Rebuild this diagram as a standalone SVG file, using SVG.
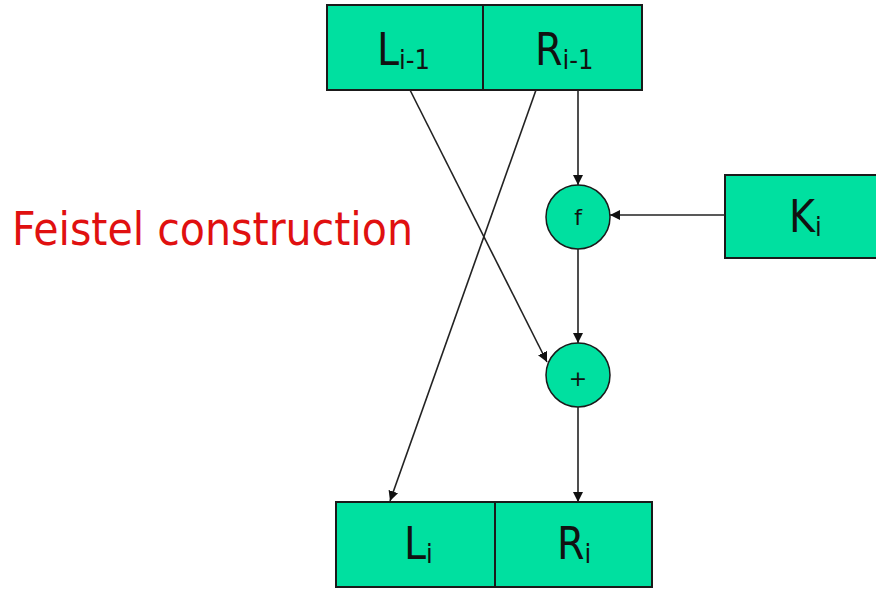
<svg xmlns="http://www.w3.org/2000/svg" width="876" height="590" viewBox="0 0 876 590">
  <defs>
    <marker id="arrow" viewBox="0 0 10 10" refX="10" refY="5" markerWidth="10" markerHeight="10" markerUnits="userSpaceOnUse" orient="auto">
      <path d="M0,0 L10,5 L0,10 z" fill="#111"/>
    </marker>
    <style>
      .box { fill: #00E0A0; stroke: #1a1a1a; stroke-width: 2; }
      .op { fill: #00E0A0; stroke: #1a1a1a; stroke-width: 1.5; }
      .lbl { font-family: "DejaVu Sans Condensed", "DejaVu Sans", "Liberation Sans", sans-serif; font-size: 44px; fill: #111; }
      .sub { font-size: 27px; }
      .opl { font-family: "DejaVu Sans", "Liberation Sans", sans-serif; font-size: 22px; fill: #111; text-anchor: middle; }
      .wire { stroke: #222; stroke-width: 1.6; fill: none; }
      .title { font-family: "DejaVu Sans Condensed", "DejaVu Sans", "Liberation Sans", sans-serif; font-size: 46px; fill: #E01010; }
    </style>
  </defs>

  <rect width="876" height="590" fill="#ffffff"/>

  <text class="title" x="12" y="245" textLength="401" lengthAdjust="spacingAndGlyphs">Feistel construction</text>

  <g id="input-block">
    <rect class="box" x="327" y="5" width="156" height="85"/>
    <rect class="box" x="483" y="5" width="159" height="85"/>
    <text class="lbl" x="377" y="65">L<tspan class="sub" dy="4">i-1</tspan></text>
    <text class="lbl" x="535" y="65">R<tspan class="sub" dy="4">i-1</tspan></text>
  </g>

  <g id="key">
    <rect class="box" x="725" y="175" width="160" height="83"/>
    <text class="lbl" x="789" y="232">K<tspan class="sub" dy="4">i</tspan></text>
  </g>

  <g id="round-function">
    <circle class="op" cx="578" cy="217" r="32"/>
    <text class="opl" x="578" y="225">f</text>
  </g>

  <g id="xor">
    <circle class="op" cx="578" cy="375" r="32"/>
    <text class="opl" x="578" y="386">+</text>
  </g>

  <g id="output-block">
    <rect class="box" x="336" y="502" width="159" height="85"/>
    <rect class="box" x="495" y="502" width="157" height="85"/>
    <text class="lbl" x="404" y="559">L<tspan class="sub" dy="4">i</tspan></text>
    <text class="lbl" x="557" y="559">R<tspan class="sub" dy="4">i</tspan></text>
  </g>

  <g id="connectors">
    <line class="wire" x1="578" y1="90" x2="578" y2="185" marker-end="url(#arrow)"/>
    <line class="wire" x1="725" y1="215" x2="610" y2="215" marker-end="url(#arrow)"/>
    <line class="wire" x1="578" y1="249" x2="578" y2="343" marker-end="url(#arrow)"/>
    <line class="wire" x1="578" y1="407" x2="578" y2="502" marker-end="url(#arrow)"/>
    <line class="wire" x1="410" y1="90" x2="547" y2="362" marker-end="url(#arrow)"/>
    <line class="wire" x1="536" y1="90" x2="390" y2="501" marker-end="url(#arrow)"/>
  </g>
</svg>
